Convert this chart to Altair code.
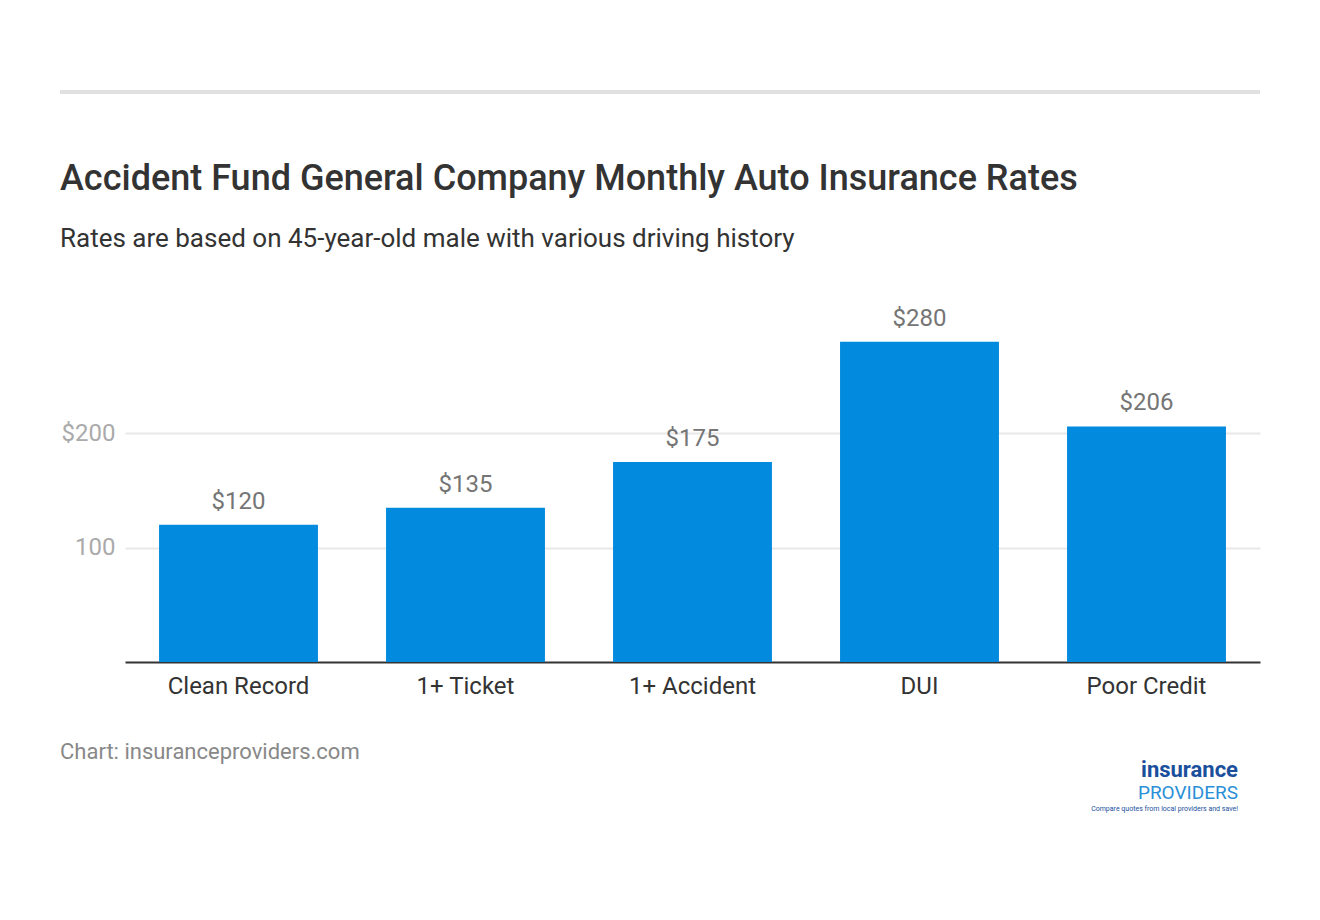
import altair as alt
import pandas as pd

categories = ["Clean Record", "1+ Ticket", "1+ Accident", "DUI", "Poor Credit"]
rates = [120, 135, 175, 280, 206]
y_ticks = [100, 200]

title_text = "Accident Fund General Company Monthly Auto Insurance Rates"
subtitle_text = "Rates are based on 45-year-old male with various driving history"
footer_text = "Chart: insuranceproviders.com"

df = pd.DataFrame({"category": categories, "rate": rates})
df["label"] = ["$" + str(v) for v in rates]

FONT = "Roboto"
W, H = 1135, 343

x_enc = alt.X(
    "category:N",
    sort=categories,
    scale=alt.Scale(paddingInner=0.3, paddingOuter=0.15),
    axis=alt.Axis(
        title=None, labelAngle=0, labelFont=FONT, labelFontSize=24,
        labelColor="#333333", labelPadding=12, ticks=False,
        domainColor="#333333", domainWidth=2, grid=False,
    ),
)
y_enc = alt.Y(
    "rate:Q",
    scale=alt.Scale(domain=[0, 300]),
    axis=alt.Axis(
        title=None, values=y_ticks, labelFont=FONT, labelFontSize=24,
        labelColor="#aaaaaa", labelPadding=10, ticks=False, domain=False,
        gridColor="#e8e8e8", gridWidth=2,
        labelExpr="datum.value == 200 ? '$200' : datum.label",
    ),
)

bars = alt.Chart(df).mark_bar(color="#028ADF").encode(x=x_enc, y=y_enc)

values = alt.Chart(df).mark_text(
    font=FONT, fontSize=24, color="#757575", dy=-16, baseline="alphabetic"
).encode(x=alt.X("category:N", sort=categories), y="rate:Q", text="label:N")

top_rule = alt.Chart(pd.DataFrame({"a": [0]})).mark_rule(
    color="#e0e0e0", strokeWidth=4
).encode(x=alt.value(-65), x2=alt.value(1135), y=alt.value(-227))


def text_layer(txt, x, y, size, color, weight="normal", align="left", font=FONT):
    return alt.Chart(pd.DataFrame({"t": [txt]})).mark_text(
        font=font, fontSize=size, color=color, fontWeight=weight,
        align=align, baseline="alphabetic",
    ).encode(x=alt.value(x), y=alt.value(y), text="t:N")


title = text_layer(title_text, -65, -129, 36, "#333333", weight=500)
subtitle = text_layer(subtitle_text, -65, -72, 26, "#333333")
footer = text_layer(footer_text, -65, 440, 22, "#888888")

logo1 = text_layer("insurance", 1113, 458, 22, "#1a4f9c", weight="bold", align="right")
logo2 = text_layer("PROVIDERS", 1113, 480, 19, "#2a8fd6", align="right")
logo3 = text_layer("Compare quotes from local providers and save!", 1113, 492, 7,
                   "#1a4f9c", align="right")

chart = alt.layer(
    bars, values, top_rule, title, subtitle, footer, logo1, logo2, logo3
).properties(
    width=W, height=H,
    background="white",
    autosize=alt.AutoSizeParams(type="none"),
    padding={"left": 117, "top": 311, "right": 50, "bottom": 200},
).configure_view(stroke="transparent", strokeWidth=0)

chart.save("out.html", embed_options={"renderer": "svg", "actions": False})
